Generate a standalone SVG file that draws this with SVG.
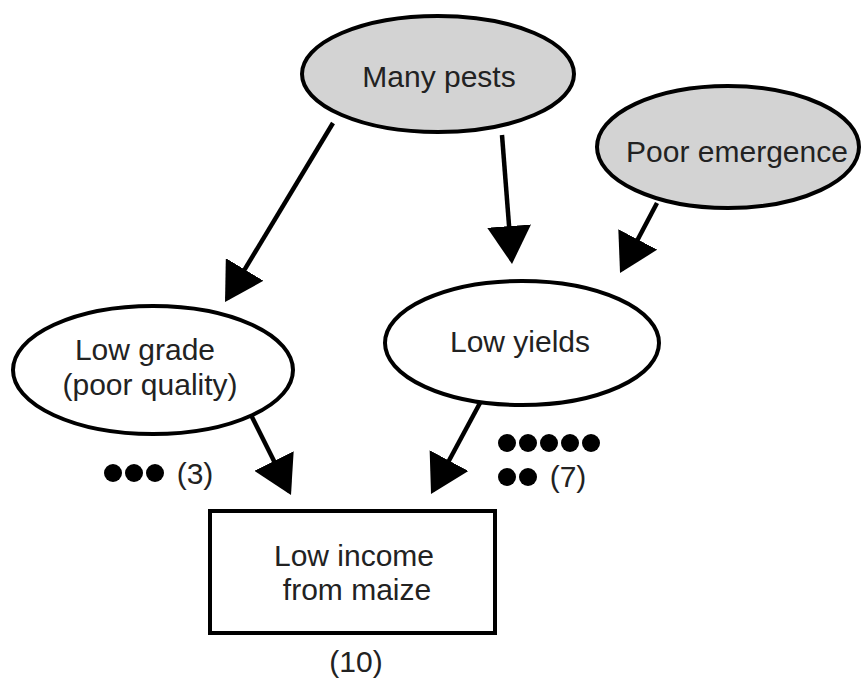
<svg xmlns="http://www.w3.org/2000/svg" width="863" height="679" viewBox="0 0 863 679">
<style>
.node { stroke:#000; stroke-width:4; }
.cause { fill:#d3d3d3; }
.effect { fill:#fff; }
text { font-family:"Liberation Sans", Arial, sans-serif; font-size:30px; fill:#222; text-anchor:middle; }
.edge { stroke:#000; stroke-width:4.5; fill:none; marker-end:url(#arrow); }
.dot { fill:#000; }
</style>
<defs>
<marker id="arrow" markerUnits="userSpaceOnUse" viewBox="0 -22 38 44" refX="34" refY="0" markerWidth="38" markerHeight="44" orient="auto">
<path d="M0,-22 L38,0 L0,22 z" fill="#000"/>
</marker>
</defs>
<rect width="863" height="679" fill="#fff"/>
<g id="connectors">
<line class="edge" x1="333" y1="123" x2="227.1" y2="298.6"/>
<line class="edge" x1="502" y1="135" x2="511.7" y2="260"/>
<line class="edge" x1="657" y1="203" x2="621.9" y2="269.5"/>
<line class="edge" x1="250" y1="413" x2="289.2" y2="491.4"/>
<line class="edge" x1="480" y1="403" x2="432.9" y2="490.5"/>
</g>
<g id="many-pests">
<ellipse class="node cause" cx="438" cy="74" rx="136" ry="58"/>
<text x="439" y="87">Many pests</text>
</g>
<g id="poor-emergence">
<ellipse class="node cause" cx="728" cy="147" rx="131" ry="61"/>
<text x="737" y="162">Poor emergence</text>
</g>
<g id="low-grade">
<ellipse class="node effect" cx="153" cy="370" rx="140" ry="64"/>
<text x="145" y="360">Low grade</text>
<text x="150" y="395">(poor quality)</text>
<g id="low-grade-count">
<circle class="dot" cx="113" cy="473" r="9"/>
<circle class="dot" cx="134" cy="473" r="9"/>
<circle class="dot" cx="155" cy="473" r="9"/>
<text x="195" y="484">(3)</text>
</g>
</g>
<g id="low-yields">
<ellipse class="node effect" cx="522" cy="343" rx="137" ry="62"/>
<text x="520" y="352">Low yields</text>
<g id="low-yields-count">
<circle class="dot" cx="507" cy="443" r="9"/>
<circle class="dot" cx="528" cy="443" r="9"/>
<circle class="dot" cx="549" cy="443" r="9"/>
<circle class="dot" cx="570" cy="443" r="9"/>
<circle class="dot" cx="591" cy="443" r="9"/>
<circle class="dot" cx="507" cy="477" r="9"/>
<circle class="dot" cx="528" cy="477" r="9"/>
<text x="568" y="487">(7)</text>
</g>
</g>
<g id="low-income">
<rect class="node effect" x="210" y="511" width="285" height="122"/>
<text x="354" y="566">Low income</text>
<text x="357" y="600">from maize</text>
<text x="356" y="672">(10)</text>
</g>
</svg>
